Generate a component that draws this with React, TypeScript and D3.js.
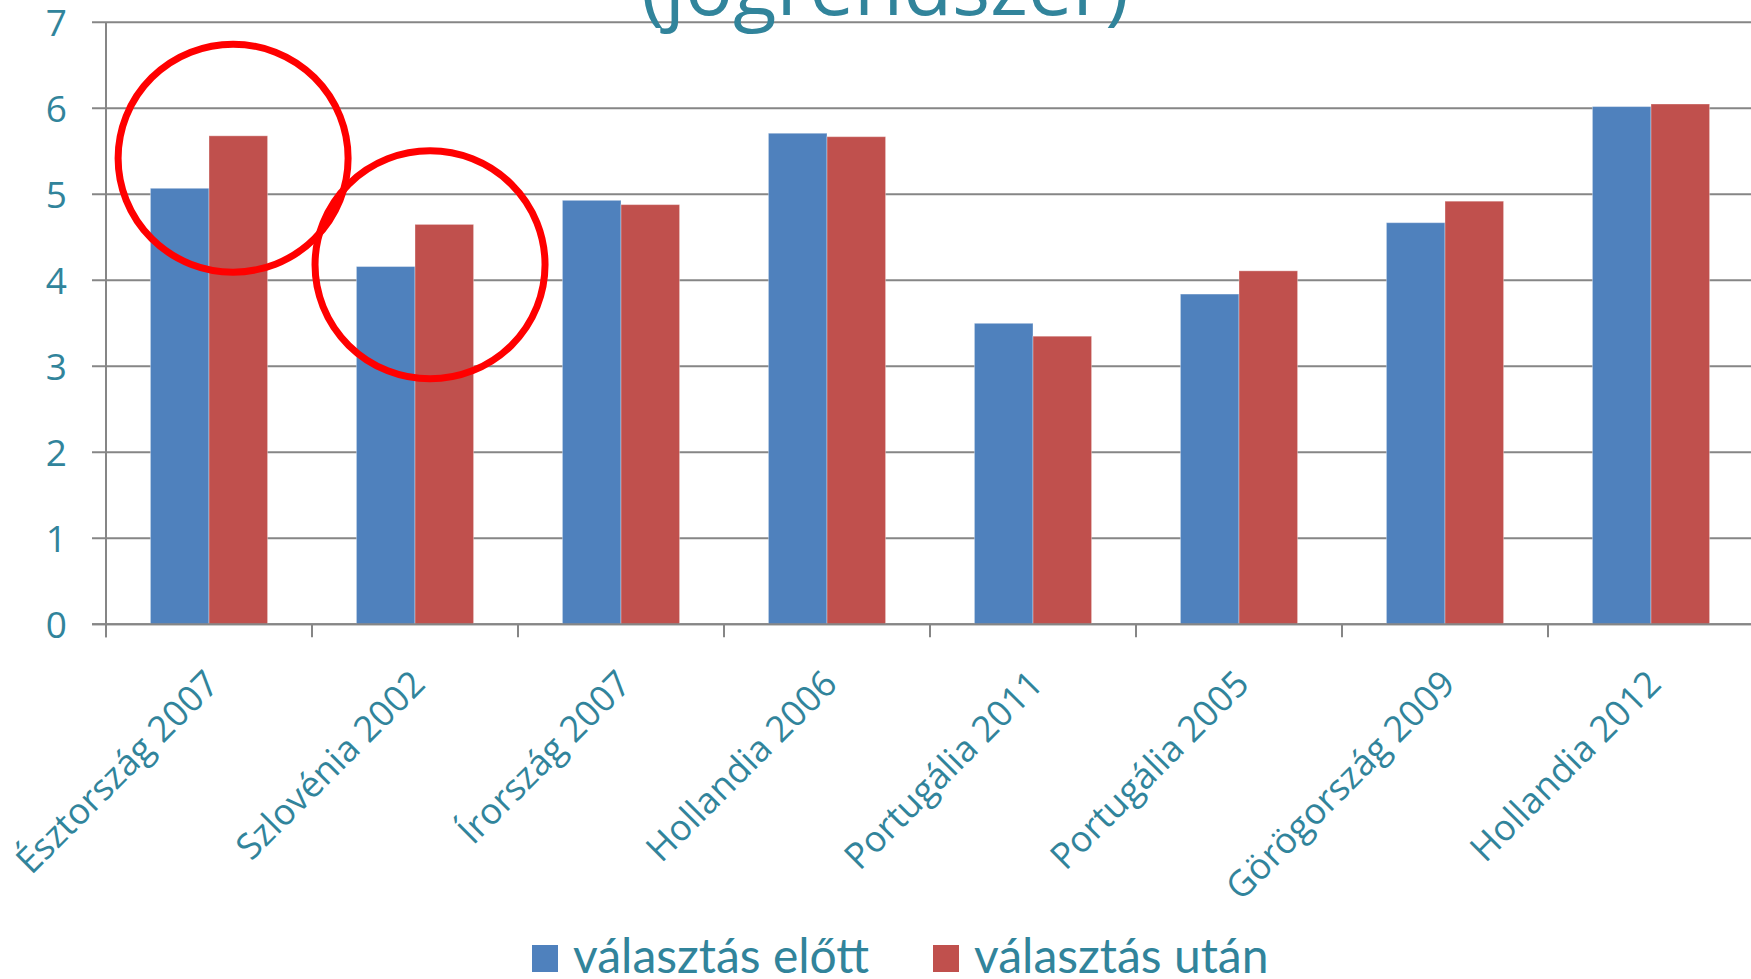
import React from 'react';
import * as d3 from 'd3';

// data
const categories = [
    'Észtország 2007',
    'Szlovénia 2002',
    'Írország 2007',
    'Hollandia 2006',
    'Portugália 2011',
    'Portugália 2005',
    'Görögország 2009',
    'Hollandia 2012',
];
const seriesNames = ['választás előtt', 'választás után'];
const before = [5.07, 4.16, 4.93, 5.71, 3.50, 3.84, 4.67, 6.02];
const after = [5.68, 4.65, 4.88, 5.67, 3.35, 4.11, 4.92, 6.05];
const yTickValues = [0, 1, 2, 3, 4, 5, 6, 7];
const titleText = '(jogrendszer)';
// red hand-drawn circles: category, position inside band (0..1), value
const highlights = [
    { cat: 'Észtország 2007', pos: 0.617, value: 5.42 },
    { cat: 'Szlovénia 2002', pos: 0.573, value: 4.18 },
];

const colors = ['#4F81BD', '#C0504D'];
const teal = '#31849B';
const gridColor = '#868686';

const App = () => {
    const width = 1751;
    const height = 979;
    const margin = { l: 106, t: 22.3, b: 624.3 };
    const step = 206;

    const x0 = d3.scaleBand()
        .domain(categories)
        .range([margin.l, margin.l + step * categories.length])
        .padding(0);

    const x1 = d3.scaleBand()
        .domain(seriesNames)
        .range([0, x0.bandwidth()])
        .paddingInner(0)
        .paddingOuter(0.758);

    const y = d3.scaleLinear()
        .domain([0, 7])
        .range([margin.b, margin.t]);

    const values = [before, after];

    const grid = yTickValues.map(d =>
        <line key={d} x1={margin.l - 14} x2={width} y1={y(d)} y2={y(d)}
            stroke={gridColor} strokeWidth={2} />
    );

    const yLabels = yTickValues.map(d =>
        <text key={d} x={margin.l - 39} y={y(d)} dy="0.36em" textAnchor="end"
            fontSize={37} fill={teal}>{d}</text>
    );

    const xTicks = d3.range(categories.length + 1).map(i => {
        const xx = margin.l + i * x0.step();
        return <line key={i} x1={xx} x2={xx} y1={margin.b} y2={margin.b + 13}
            stroke={gridColor} strokeWidth={2} />;
    });

    const bars = categories.map((c, i) =>
        <g key={c} transform={`translate(${x0(c)},0)`}>
            {seriesNames.map((s, j) =>
                <rect key={s} x={x1(s)} y={y(values[j][i])}
                    width={x1.bandwidth()} height={y(0) - y(values[j][i])}
                    fill={colors[j]} stroke="#ffffff" strokeOpacity={0.35} strokeWidth={1} />
            )}
        </g>
    );

    const xLabels = categories.map(c => {
        const cx = (x0(c) as number) + x0.bandwidth() / 2 + 12;
        return <text key={c} transform={`translate(${cx},686) rotate(-45)`}
            textAnchor="end" fontSize={36} fill={teal}>{c}</text>;
    });

    const circles = highlights.map(h =>
        <ellipse key={h.cat} cx={(x0(h.cat) as number) + h.pos * x0.bandwidth()} cy={y(h.value)}
            rx={115} ry={114} fill="none" stroke="#FF0000" strokeWidth={7} />
    );

    const legendX = [532, 933];

    return (
        <div style={{ position: 'fixed', left: 0, top: 0 }}>
            <svg width={width} height={height} style={{ display: 'block', background: '#fff' }}
                fontFamily="'Open Sans', sans-serif">
                <g>{grid}</g>
                <line x1={margin.l} x2={margin.l} y1={margin.t} y2={margin.b + 13}
                    stroke={gridColor} strokeWidth={2} />
                <g>{xTicks}</g>
                <g>{bars}</g>
                <line x1={margin.l - 14} x2={width} y1={y(0)} y2={y(0)} stroke={gridColor} strokeWidth={2} />
                <g>{yLabels}</g>
                <g>{xLabels}</g>
                <text x={885} y={15} textAnchor="middle" fontSize={80} fill={teal}>{titleText}</text>
                <g>{circles}</g>
                <g fontFamily="Lato, sans-serif">
                    {seriesNames.map((s, j) =>
                        <g key={s} transform={`translate(${legendX[j]},0)`}>
                            <rect x={0} y={945} width={26} height={27} fill={colors[j]} />
                            <text x={41} y={973} fontSize={48} fill={teal}>{s}</text>
                        </g>
                    )}
                </g>
            </svg>
        </div>
    );
};

export default App;
